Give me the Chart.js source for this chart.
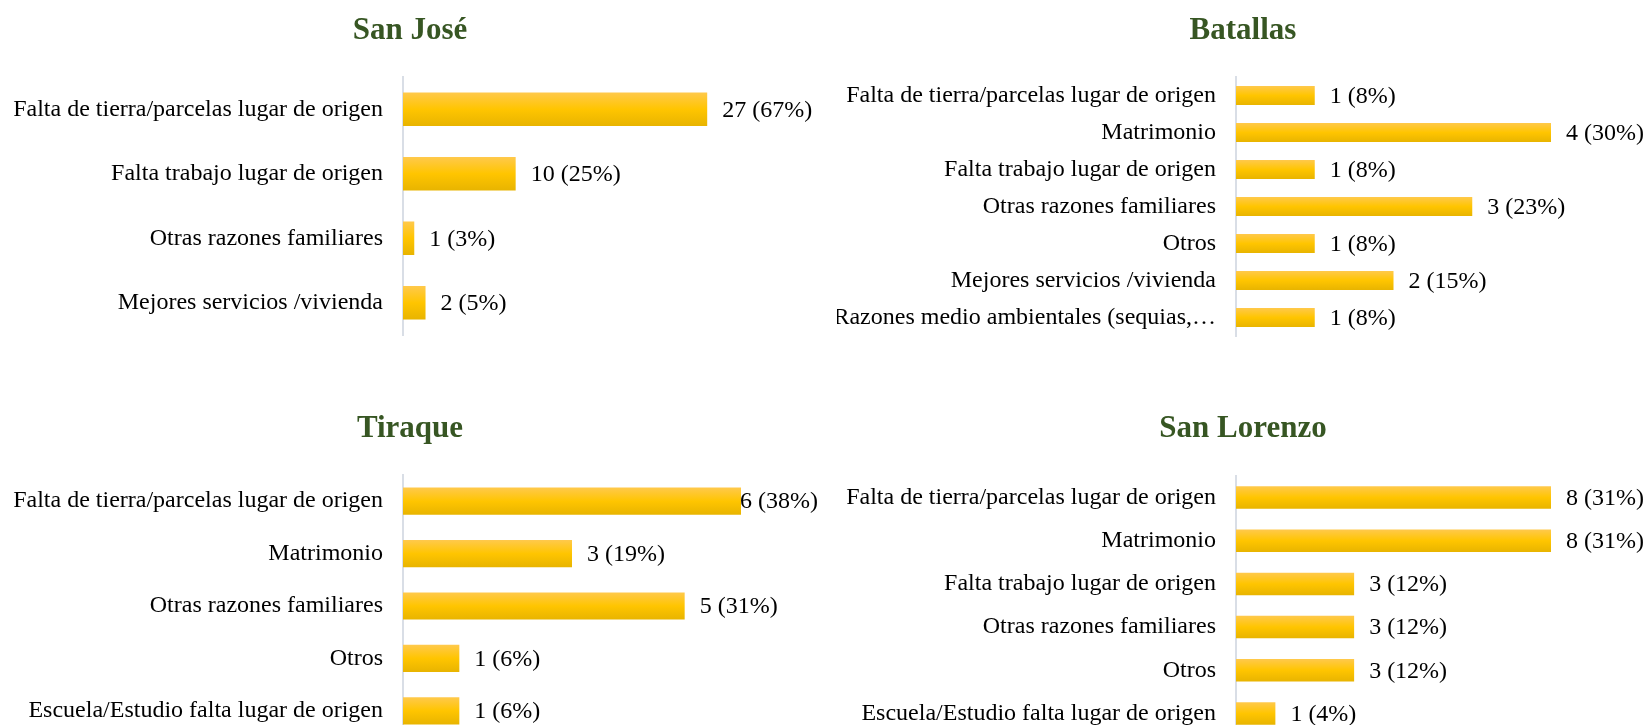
<!DOCTYPE html>
<html lang="es">
<head>
<meta charset="UTF-8">
<title>Razones de migración por municipio</title>
<script src="https://cdn.jsdelivr.net/npm/chart.js"></script>
<style>
    body { margin: 0; width: 1649px; height: 725px; overflow: hidden; background: #fff; position: relative; }
    .panel { position: absolute; }
</style>
</head>
<body>
<div class="panel" style="left:0;top:0"><canvas id="sanJose" width="820" height="360"></canvas></div>
<div class="panel" style="left:837px;top:0"><canvas id="batallas" width="812" height="360"></canvas></div>
<div class="panel" style="left:0;top:398px"><canvas id="tiraque" width="820" height="360"></canvas></div>
<div class="panel" style="left:837px;top:398px"><canvas id="sanLorenzo" width="812" height="360"></canvas></div>

<script>
// San José
const sanJoseLabels = ['Falta de tierra/parcelas lugar de origen', 'Falta trabajo lugar de origen', 'Otras razones familiares', 'Mejores servicios /vivienda'];
const sanJoseCounts = [27, 10, 1, 2];
const sanJosePct = [67, 25, 3, 5];

// Batallas
const batallasLabels = ['Falta de tierra/parcelas lugar de origen', 'Matrimonio', 'Falta trabajo lugar de origen', 'Otras razones familiares', 'Otros', 'Mejores servicios /vivienda', 'Razones medio ambientales (sequias,\u2026'];
const batallasCounts = [1, 4, 1, 3, 1, 2, 1];
const batallasPct = [8, 30, 8, 23, 8, 15, 8];

// Tiraque
const tiraqueLabels = ['Falta de tierra/parcelas lugar de origen', 'Matrimonio', 'Otras razones familiares', 'Otros', 'Escuela/Estudio falta lugar de origen'];
const tiraqueCounts = [6, 3, 5, 1, 1];
const tiraquePct = [38, 19, 31, 6, 6];

// San Lorenzo
const sanLorenzoLabels = ['Falta de tierra/parcelas lugar de origen', 'Matrimonio', 'Falta trabajo lugar de origen', 'Otras razones familiares', 'Otros', 'Escuela/Estudio falta lugar de origen'];
const sanLorenzoCounts = [8, 8, 3, 3, 3, 1];
const sanLorenzoPct = [31, 31, 12, 12, 12, 4];

const FONT = '"Liberation Serif", "Times New Roman", serif';

// title drawn centred on the canvas
const panelTitle = {
    id: 'panelTitle',
    afterDraw(chart, args, opts) {
        const ctx = chart.ctx;
        ctx.save();
        ctx.font = 'bold 31px ' + FONT;
        ctx.fillStyle = '#375623';
        ctx.textAlign = 'center';
        ctx.textBaseline = 'middle';
        ctx.fillText(opts.text, chart.width / 2, opts.y);
        ctx.restore();
    }
};

// vertical gradient on every bar (each bar gets its own options copy)
const barGradient = {
    id: 'barGradient',
    beforeDatasetsDraw(chart) {
        const ctx = chart.ctx;
        chart.getDatasetMeta(0).data.forEach(function (bar) {
            const top = bar.y - bar.height / 2;
            const g = ctx.createLinearGradient(0, top, 0, top + bar.height);
            g.addColorStop(0, '#FFC94C');
            g.addColorStop(0.5, '#FFC500');
            g.addColorStop(1, '#E8B400');
            bar.options = Object.assign({}, bar.options, { backgroundColor: g });
        });
    }
};

// "n (p%)" after each bar, pushed back inside the canvas if it would overflow
const valueLabels = {
    id: 'valueLabels',
    afterDatasetsDraw(chart, args, opts) {
        const ctx = chart.ctx;
        ctx.save();
        ctx.font = '24px ' + FONT;
        ctx.fillStyle = '#000';
        ctx.textAlign = 'left';
        ctx.textBaseline = 'middle';
        chart.getDatasetMeta(0).data.forEach(function (bar, i) {
            const txt = chart.data.datasets[0].data[i] + ' (' + opts.pct[i] + '%)';
            const w = ctx.measureText(txt).width;
            const x = Math.min(bar.x + 15, chart.width - 2 - w);
            ctx.fillText(txt, x, bar.y + 1);
        });
        ctx.restore();
    }
};

function makeChart(id, title, labels, counts, pct, max, axisWidth, pad) {
    return new Chart(document.getElementById(id), {
        type: 'bar',
        data: {
            labels: labels,
            datasets: [{
                data: counts,
                backgroundColor: '#FFC500',
                borderWidth: 0,
                barPercentage: 0.52,
                categoryPercentage: 1
            }]
        },
        options: {
            indexAxis: 'y',
            responsive: false,
            animation: false,
            devicePixelRatio: 1,
            layout: { padding: pad },
            plugins: {
                legend: { display: false },
                tooltip: { enabled: false },
                panelTitle: { text: title, y: 31 },
                valueLabels: { pct: pct }
            },
            scales: {
                x: { display: false, min: 0, max: max },
                y: {
                    grid: { display: false, drawTicks: false },
                    border: { display: true, color: '#D9DEE6', width: 2 },
                    ticks: {
                        color: '#000',
                        padding: 20,
                        autoSkip: false,
                        font: { family: FONT, size: 24 }
                    },
                    afterFit: function (scale) {
                        scale.width = axisWidth;
                        // the plot area is set by layout padding only
                        scale.paddingTop = 0;
                        scale.paddingBottom = 0;
                    }
                }
            }
        },
        plugins: [panelTitle, barGradient, valueLabels]
    });
}

makeChart('sanJose', 'San Jos\u00e9', sanJoseLabels, sanJoseCounts, sanJosePct, 30, 403,
    { top: 77, bottom: 25, left: 0, right: 79 });
makeChart('batallas', 'Batallas', batallasLabels, batallasCounts, batallasPct, 4, 399,
    { top: 77, bottom: 24, left: 0, right: 98 });
makeChart('tiraque', 'Tiraque', tiraqueLabels, tiraqueCounts, tiraquePct, 6, 403,
    { top: 77, bottom: 21, left: 0, right: 79 });
makeChart('sanLorenzo', 'San Lorenzo', sanLorenzoLabels, sanLorenzoCounts, sanLorenzoPct, 8, 399,
    { top: 78, bottom: 23, left: 0, right: 98 });
</script>
</body>
</html>
